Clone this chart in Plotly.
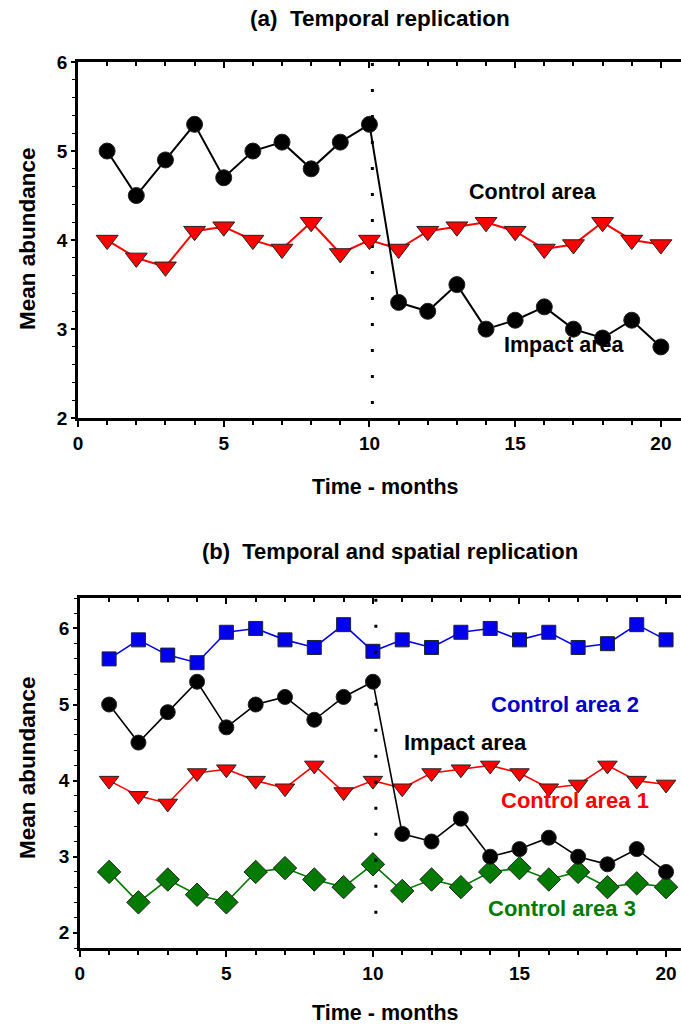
import plotly.graph_objects as go

months = list(range(1, 21))
impact = [5.0, 4.5, 4.9, 5.3, 4.7, 5.0, 5.1, 4.8, 5.1, 5.3,
          3.3, 3.2, 3.5, 3.0, 3.1, 3.25, 3.0, 2.9, 3.1, 2.8]
control1 = [4.0, 3.8, 3.7, 4.1, 4.15, 4.0, 3.9, 4.2, 3.85, 4.0,
            3.9, 4.1, 4.15, 4.2, 4.1, 3.9, 3.95, 4.2, 4.0, 3.95]
control2 = [5.6, 5.85, 5.65, 5.55, 5.95, 6.0, 5.85, 5.75, 6.05, 5.7,
            5.85, 5.75, 5.95, 6.0, 5.85, 5.95, 5.75, 5.8, 6.05, 5.85]
control3 = [2.8, 2.4, 2.7, 2.5, 2.4, 2.8, 2.85, 2.7, 2.6, 2.9,
            2.55, 2.7, 2.6, 2.8, 2.85, 2.7, 2.8, 2.6, 2.65, 2.6]
impact_month = 10.1
xticks = [0, 5, 10, 15, 20]
yticks = [2, 3, 4, 5, 6]

FONT = "Liberation Sans, Arial, sans-serif"

fig = go.Figure()

def series(x, y, color, symbol, size, xa, ya, lw=2):
    fig.add_trace(go.Scatter(
        x=x, y=y, mode="lines+markers", xaxis=xa, yaxis=ya,
        line=dict(color=color, width=lw),
        marker=dict(symbol=symbol, size=size, color=color,
                    line=dict(color="#222222", width=1)),
        showlegend=False, hoverinfo="skip"))

# panel a
series(months, control1, "#ff0000", "triangle-down", 19, "x", "y")
series(months, impact, "#000000", "circle", 16, "x", "y")
# panel b
series(months, control3, "#007a00", "diamond", 18, "x2", "y2", 1.6)
series(months, control1, "#ff0000", "triangle-down", 17, "x2", "y2", 1.6)
series(months, impact, "#000000", "circle", 15, "x2", "y2", 1.6)
series(months, control2, "#0000ee", "square", 14, "x2", "y2", 1.6)

# impact dotted lines
fig.add_trace(go.Scatter(x=[impact_month, impact_month], y=[5.99, 2.12], mode="lines",
                         xaxis="x", yaxis="y", line=dict(color="black", width=3, dash="3px,23px"),
                         showlegend=False, hoverinfo="skip"))
fig.add_trace(go.Scatter(x=[impact_month, impact_month], y=[6.39, 1.95], mode="lines",
                         xaxis="x2", yaxis="y2", line=dict(color="black", width=3, dash="3px,23px"),
                         showlegend=False, hoverinfo="skip"))

tickfont = dict(family=FONT, size=19, color="black", weight="bold")

def xaxis_cfg(domain, rng, anchor):
    return dict(domain=domain, range=rng, anchor=anchor, automargin=False,
                tickmode="array", tickvals=xticks,
                ticks="outside", ticklen=6, tickwidth=1.5, tickcolor="black",
                minor=dict(tickmode="linear", tick0=0, dtick=1, ticks="outside", ticklen=4, tickcolor="black", tickwidth=1.5),
                showline=True, linecolor="black", linewidth=3,
                showgrid=False, zeroline=False, tickfont=tickfont)

def xaxis_top(domain, rng, overlay, anchor):
    return dict(domain=domain, range=rng, anchor=anchor, overlaying=overlay, side="top",
                automargin=False,
                tickmode="array", tickvals=xticks, showticklabels=False,
                ticks="inside", ticklen=6, tickwidth=1.5, tickcolor="black",
                minor=dict(tickmode="linear", tick0=0, dtick=1, ticks="inside", ticklen=4, tickcolor="black", tickwidth=1.5),
                showline=True, linecolor="black", linewidth=2.5,
                showgrid=False, zeroline=False)

def yaxis_cfg(domain, rng, anchor):
    return dict(domain=domain, range=rng, anchor=anchor, automargin=False,
                tickmode="array", tickvals=yticks,
                ticks="outside", ticklen=4, tickwidth=1.5, tickcolor="black",
                minor=dict(tickmode="linear", tick0=0, dtick=0.2, ticks="outside", ticklen=3, tickcolor="black", tickwidth=1),
                showline=True, linecolor="black", linewidth=2.5,
                showgrid=False, zeroline=False, tickfont=tickfont)

fig.update_layout(
    width=681, height=1026,
    margin=dict(l=78, r=0, t=62, b=78, autoexpand=False),
    plot_bgcolor="white", paper_bgcolor="white",
    xaxis=xaxis_cfg([0, 1], [0, 20.69], "y"),
    yaxis=yaxis_cfg([0.598, 1], [2, 6], "x"),
    xaxis3=xaxis_top([0, 1], [0, 20.69], "x", "y"),
    xaxis2=xaxis_cfg([0.003, 1], [0, 20.51], "y2"),
    yaxis2=yaxis_cfg([0, 0.395], [1.8, 6.4], "x2"),
    xaxis4=xaxis_top([0.003, 1], [0, 20.51], "x2", "y2"),
)

fig.add_trace(go.Scatter(x=[None], y=[None], xaxis="x3", yaxis="y", showlegend=False))
fig.add_trace(go.Scatter(x=[None], y=[None], xaxis="x4", yaxis="y2", showlegend=False))

def txt(size, color="black"):
    return dict(family=FONT, size=size, color=color, weight="bold")

def pix(px, py, text, size, angle=0):
    # position in paper coordinates from pixel location
    return dict(text=text, xref="paper", yref="paper",
                x=(px - 78) / 603, y=(948 - py) / 886, showarrow=False,
                font=txt(size), textangle=angle, xanchor="center", yanchor="middle")

fig.update_layout(annotations=[
    pix(380, 18, "(a)  Temporal replication", 22.5),
    pix(390, 551, "(b)  Temporal and spatial replication", 22),
    pix(385, 487, "Time - months", 21.5),
    pix(385, 1013, "Time - months", 21.5),
    pix(27, 239, "Mean abundance", 22.5, -90),
    pix(27, 768, "Mean abundance", 22.5, -90),
    dict(text="Control area", x=15.6, y=4.54, xref="x", yref="y", showarrow=False, font=txt(21.5)),
    dict(text="Impact area", x=16.7, y=2.82, xref="x", yref="y", showarrow=False, font=txt(21.5)),
    dict(text="Control area 2", x=16.55, y=5.0, xref="x2", yref="y2", showarrow=False, font=txt(22, "#0000cc")),
    dict(text="Impact area", x=13.15, y=4.5, xref="x2", yref="y2", showarrow=False, font=txt(22)),
    dict(text="Control area 1", x=16.9, y=3.74, xref="x2", yref="y2", showarrow=False, font=txt(22, "#ff0000")),
    dict(text="Control area 3", x=16.45, y=2.32, xref="x2", yref="y2", showarrow=False, font=txt(22, "#007a00")),
])

fig.write_html("out.html", config={"displayModeBar": False},
               post_script="document.body.style.margin='0';document.body.style.overflow='hidden';")
